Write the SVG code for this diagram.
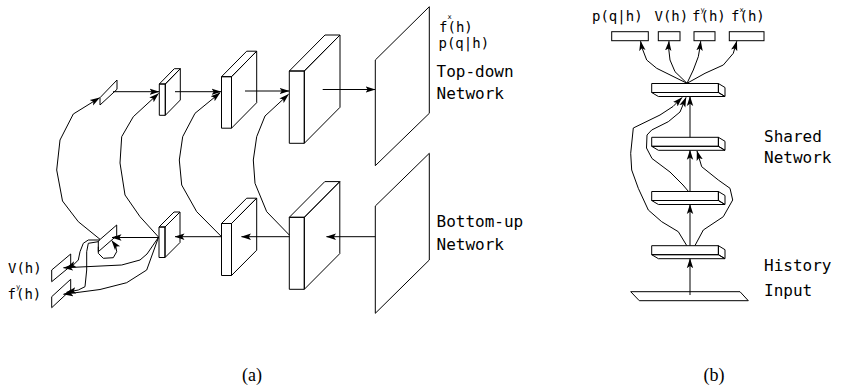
<svg xmlns="http://www.w3.org/2000/svg" width="841" height="388" viewBox="0 0 841 388">
<style>
.n{fill:#fff;stroke:#000;stroke-width:1;stroke-linejoin:miter}
.c{fill:none;stroke:#000;stroke-width:1;marker-end:url(#ah)}
.l{fill:none;stroke:#000;stroke-width:1}
.t{font-family:"DejaVu Sans Mono",monospace;font-size:16px;fill:#000}
.s{font-family:"DejaVu Sans Mono",monospace;font-size:14px;fill:#000}
.cap{font-family:"Liberation Serif",serif;font-size:18px;fill:#000;text-anchor:middle}
</style>
<defs>
<marker id="ah" markerUnits="userSpaceOnUse" viewBox="0 0 10 8" refX="9.5" refY="4" markerWidth="10" markerHeight="8" orient="auto">
<path d="M0,0.8 L10,4 L0,7.2 L2.2,4 Z" fill="#000"/>
</marker>
</defs>
<rect width="841" height="388" fill="#fff"/>

<!-- (a) top-down row -->
<g id="a-top1"><path class="n" d="M100,97.7 L117,80 L117,89.3 L100,105 Z"/></g>
<g id="a-top2"><path class="n" d="M159.3,84 h6 v31.3 h-6 Z M159.3,84 L174.3,68.7 H180.3 L165.3,84 Z M165.3,84 L180.3,68.7 V100 L165.3,115.3 Z"/></g>
<g id="a-top3"><path class="n" d="M221.5,76.7 h10 v51.5 h-10 Z M221.5,76.7 L246.7,51.2 H256.7 L231.5,76.7 Z M231.5,76.7 L256.7,51.2 V102.7 L231.5,128.2 Z"/></g>
<g id="a-top4"><path class="n" d="M289.3,71 h15 v72.3 h-15 Z M289.3,71 L325,35 H340 L304.3,71 Z M304.3,71 L340,35 V107.3 L304.3,143.3 Z"/></g>
<g id="a-top5"><path class="n" d="M375.3,60 L429.3,6.7 L429.3,113.3 L375.3,165.7 Z"/></g>

<!-- (a) bottom-up row -->
<g id="a-bot1"><path class="n" d="M98.3,241 L116.7,225 L116.7,235.7 L98.3,251.7 Z"/></g>
<g id="a-bot2"><path class="n" d="M159,227 h6 v30.5 h-6 Z M159,227 L174,212 H180 L165,227 Z M165,227 L180,212 V242.5 L165,257.5 Z"/></g>
<g id="a-bot3"><path class="n" d="M221.5,223.5 h10 v52 h-10 Z M221.5,223.5 L246.7,198.2 H256.7 L231.5,223.5 Z M231.5,223.5 L256.7,198.2 V250.2 L231.5,275.5 Z"/></g>
<g id="a-bot4"><path class="n" d="M289.3,217.3 h15 v72 h-15 Z M289.3,217.3 L324.8,181.6 H339.8 L304.3,217.3 Z M304.3,217.3 L339.8,181.6 V253.6 L304.3,289.3 Z"/></g>
<g id="a-bot5"><path class="n" d="M375.3,206 L429.3,153.3 L429.3,260 L375.3,313.3 Z"/></g>

<g id="a-outV"><path class="n" d="M51.7,270 L70.7,254 L70.7,266 L51.7,281.7 Z"/></g>
<g id="a-outF"><path class="n" d="M51.7,296.7 L70.7,279.3 L70.7,290 L51.7,307.7 Z"/></g>

<!-- (b) -->
<g id="b-out1"><rect class="n" x="611.7" y="31.7" width="36.6" height="9"/></g>
<g id="b-out2"><rect class="n" x="658.3" y="31.7" width="21.7" height="9"/></g>
<g id="b-out3"><rect class="n" x="694" y="31.7" width="21" height="9"/></g>
<g id="b-out4"><rect class="n" x="729.3" y="31.7" width="34.7" height="9"/></g>
<g id="b-bar1"><path class="n" d="M651.7,83.5 h66.7 v9 h-66.7 Z M651.7,92.5 L658.4,96.5 H725 L718.4,92.5 Z M718.4,83.5 L725,87.5 V96.5 L718.4,92.5 Z"/></g>
<g id="b-bar2"><path class="n" d="M651.7,137.3 h66.7 v9 h-66.7 Z M651.7,146.3 L658.4,150.3 H725 L718.4,146.3 Z M718.4,137.3 L725,141.3 V150.3 L718.4,146.3 Z"/></g>
<g id="b-bar3"><path class="n" d="M651.7,191.5 h66.7 v9 h-66.7 Z M651.7,200.5 L658.4,204.5 H725 L718.4,200.5 Z M718.4,191.5 L725,195.5 V204.5 L718.4,200.5 Z"/></g>
<g id="b-bar4"><path class="n" d="M651.7,245.7 h66.7 v9 h-66.7 Z M651.7,254.7 L658.4,258.7 H725 L718.4,254.7 Z M718.4,245.7 L725,249.7 V258.7 L718.4,254.7 Z"/></g>
<g id="b-input"><path class="n" d="M630.7,291.7 L740,291.7 L748.3,300.7 L639.3,300.7 Z"/></g>

<g id="connectors">
<!-- (a) top row -->
<polyline class="c" points="113,91.7 159,91.7"/>
<polyline class="c" points="175,91.7 221,91.7"/>
<polyline class="c" points="245,91 289,91"/>
<polyline class="c" points="322.7,89.5 375,89.5"/>
<!-- (a) bottom row -->
<polyline class="c" points="375.3,236.7 326.5,236.7"/>
<polyline class="c" points="289.3,236.7 241.5,236.7"/>
<polyline class="c" points="221.5,236.7 175,236.7"/>
<polyline class="c" points="159,237.5 112,237.5"/>
<!-- (a) feedback curves -->
<polyline class="c" points="100,239.3 78.3,221.7 62.5,201 56.7,170 60,140 73.3,114 99.5,97.8"/>
<polyline class="c" points="158.5,237 140,216.7 125,195 120,163 121.7,136.7 133.3,116.7 158.5,93.5"/>
<polyline class="c" points="221.5,236.7 196.7,211.7 181.7,185 179.3,160 182.7,136.7 195,113.3 220,92.8"/>
<polyline class="c" points="289.3,235 266.7,211.7 255,183.3 253.3,160 256.7,136.7 265,116 288.5,94.3"/>
<!-- (a) outputs -->
<polyline class="c" points="158.5,237.3 147,254 140,260 121.7,265 63.5,267.8"/>
<polyline class="c" points="158.5,237.3 146.7,270 126.7,282.7 100,289.5 63.5,294.3"/>
<polyline class="c" points="100,240 88.3,240 83.3,243.3 80,251.7 78.3,260 73.3,265 66.5,267.8"/>
<polyline class="c" points="98.3,241.7 88.3,243.3 86.7,251.7 86.7,270 85,286.7 78.3,290 66.5,292.3"/>
<polyline class="c" points="98.3,246.7 98.3,253.3 103.3,258.3 113.3,257.7 116.7,251.7 115.7,245.7 111.8,240.6"/>
<!-- (b) vertical flow -->
<polyline class="c" points="690,295 690,258.7"/>
<polyline class="c" points="690,245.7 690,204.5"/>
<polyline class="c" points="690,191.5 690,150.3"/>
<polyline class="c" points="690,137.3 690,96.5"/>
<!-- (b) skip connections -->
<polyline class="c" points="686.7,245.5 678.3,231.7 661.7,221.7 648.3,210 638.3,188.3 631.7,170 630.7,153.3 633.3,128 660,115 673,106.5 682,97.5"/>
<polyline class="c" points="688.5,191.5 683,185 670,172 652,158.5 646.5,148 647,135 651.7,130 668.3,121.7 680,112 686,97.5"/>
<polyline class="c" points="695,245.5 703.3,230 723.3,216.7 732.7,200 730,188.3 718.3,180 701.7,166.7 697,151"/>
<!-- (b) heads -->
<polyline class="c" points="687,83.3 656.7,68.3 646.7,60 641.7,47 640.6,41.2"/>
<polyline class="c" points="687,83.3 675,71.7 670,60 668.5,47 669,41.2"/>
<polyline class="c" points="687,83.3 693.3,70 698.3,56.7 700,47 700.7,41.2"/>
<polyline class="c" points="687,83.3 705,73.3 723.3,65 733.3,53.3 736.8,41.2"/>
</g>

<!-- labels (a) -->
<text class="s" x="439" y="31.7">f<tspan font-size="7" dy="-12.4">x</tspan><tspan dx="-4.2" dy="12.4">(h)</tspan></text>
<text class="s" x="438.5" y="48.3">p(q|h)</text>
<text class="t" x="436.5" y="76.7">Top-down</text>
<text class="t" x="436.5" y="99">Network</text>
<text class="t" x="436.5" y="227.3">Bottom-up</text>
<text class="t" x="436.5" y="250">Network</text>
<text class="s" x="8" y="273">V(h)</text>
<text class="s" x="7.5" y="299">f<tspan font-size="7" dy="-10">y</tspan><tspan dx="-4.2" dy="10">(h)</tspan></text>
<!-- labels (b) -->
<text class="s" x="592" y="20.7">p(q|h)</text>
<text class="s" x="654.5" y="20.7">V(h)</text>
<text class="s" x="692" y="20.7">f<tspan font-size="7" dy="-8.7">y</tspan><tspan dx="-4.2" dy="8.7">(h)</tspan></text>
<text class="s" x="731" y="20.7">f<tspan font-size="7" dy="-8.4">x</tspan><tspan dx="-4.2" dy="8.4">(h)</tspan></text>
<text class="t" x="764" y="141.7">Shared</text>
<text class="t" x="764" y="163.3">Network</text>
<text class="t" x="764" y="270.5">History</text>
<text class="t" x="764" y="295.5">Input</text>
<!-- captions -->
<text class="cap" x="252" y="381">(a)</text>
<text class="cap" x="714" y="381">(b)</text>
</svg>
